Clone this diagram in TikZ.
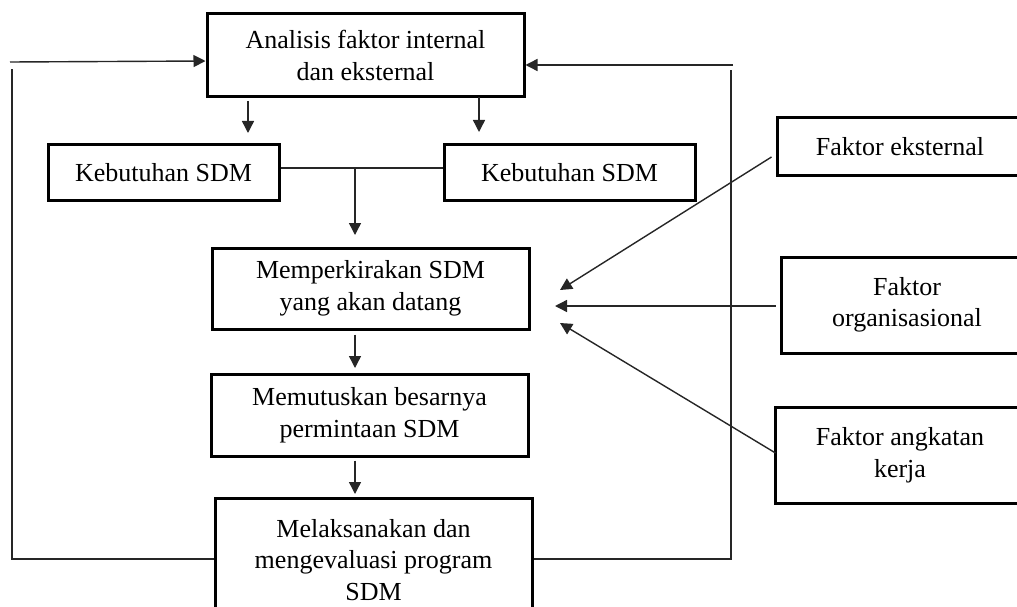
\documentclass[tikz,border=0pt]{standalone}
\usepackage{fontspec}
\setmainfont{Liberation Serif}
\usetikzlibrary{arrows.meta}
\begin{document}
\begin{tikzpicture}[x=1pt,y=-1pt,
  box/.style={draw, line width=3pt, inner sep=0pt, align=center, font=\fontsize{26}{31.5}\selectfont},
  conn/.style={line width=1.4pt, draw=black!85},
  arr/.style={conn, -{Triangle[length=12pt,width=12pt]}}]
\useasboundingbox (0,0) rectangle (1017,607);
\clip (0,0) rectangle (1017,607);
% main column
\node[box, minimum width=317pt, minimum height=83pt] (ana) at (365.5,55.5) {Analisis faktor internal\\dan eksternal};
\node[box, minimum width=231pt, minimum height=55pt] (keb1) at (163.5,172.5) {Kebutuhan SDM};
\node[box, minimum width=251pt, minimum height=55pt] (keb2) at (569.5,172.5) {Kebutuhan SDM};
\node[box, minimum width=317pt, minimum height=81pt] (mem) at (370.5,288.5) {Memperkirakan SDM\\yang akan datang};
\node[box, minimum width=317pt, minimum height=82pt] (mut) at (369.5,415) {Memutuskan besarnya\\permintaan SDM};
\node[box, minimum width=317pt, minimum height=124pt] (mel) at (373.5,560) {Melaksanakan dan\\mengevaluasi program\\SDM};
% right factors
\node[box, minimum width=246pt, minimum height=57pt] (fe) at (900,146.5) {Faktor eksternal};
\node[box, minimum width=252pt, minimum height=96pt] (fo) at (907,305) {Faktor\\organisasional};
\node[box, minimum width=250pt, minimum height=96pt] (fa) at (900,455) {Faktor angkatan\\kerja};
% free-end coordinates
\coordinate (lb) at (12,559);
\coordinate (lt) at (12,69);
\coordinate (la) at (10,62);
\coordinate (rb) at (731,559);
\coordinate (rt) at (731,70);
\coordinate (ra) at (733,65);
\coordinate (a1s) at (248,101);
\coordinate (a1e) at (248,133);
\coordinate (a2s) at (479,97);
\coordinate (a2e) at (479,132);
\coordinate (jn) at (355,168);
\coordinate (jt) at (355,235);
\coordinate (t1) at (560,290);
\coordinate (t2) at (555,306);
\coordinate (t3) at (560,323);
% feedback loops
\draw[conn] (mel.west |- lb) -- (lb) -- (lt);
\draw[arr] (la) -- (ana.west |- 0,61);
\draw[conn] (mel.east |- rb) -- (rb) -- (rt);
\draw[arr] (ra) -- (ana.east |- ra);
% downward flow
\draw[arr] (a1s) -- (a1e);
\draw[arr] (a2s) -- (a2e);
\draw[conn] (keb1.east |- jn) -- (keb2.west |- jn);
\draw[arr] (jn) -- (jt);
\draw[arr] (mem.south -| jn) ++(0,4) -- (355,368);
\draw[arr] (mut.south -| jn) ++(0,3) -- (355,494);
% factor arrows
\draw[arr] (fe.west |- 0,157) ++(-4,0) -- (t1);
\draw[arr] (fo.west |- t2) ++(-4,0) -- (t2);
\draw[arr] (fa.west |- 0,453) ++(2,0) -- (t3);
\end{tikzpicture}
\end{document}
